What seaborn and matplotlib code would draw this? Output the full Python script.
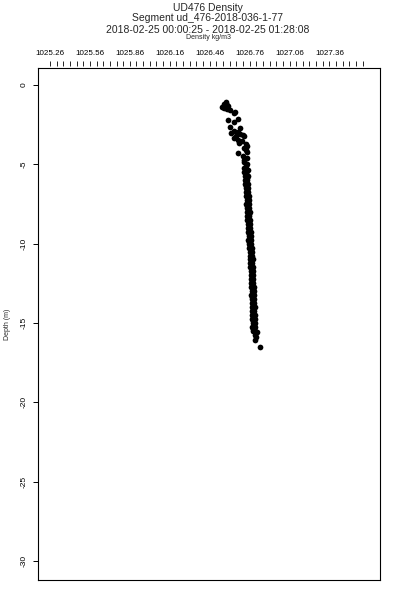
import numpy as np
import pandas as pd
import matplotlib
matplotlib.use("Agg")
import matplotlib.pyplot as plt
import seaborn as sns
from matplotlib.ticker import FixedLocator

# scattered points near the surface
top_depth = [-1.07, -1.20, -1.32, -1.45, -1.39, -1.58, -1.70, -1.77, -2.21, -2.33,
             -2.15, -2.65, -2.71, -3.03, -2.90, -3.22, -3.34, -3.09, -3.22, -3.53,
             -3.66, -3.72, -4.29, -3.97, -4.10, -4.48, -4.61, -4.86, -5.11, -5.36,
             -5.49, -5.68, -1.25, -1.50, -2.95, -3.15, -3.45, -3.85, -4.20, -4.70,
             -5.00, -5.25]
top_density = [1026.58, 1026.57, 1026.60, 1026.57, 1026.55, 1026.61, 1026.65, 1026.64, 1026.60, 1026.64,
               1026.67, 1026.61, 1026.69, 1026.62, 1026.64, 1026.66, 1026.64, 1026.69, 1026.72, 1026.70,
               1026.68, 1026.73, 1026.67, 1026.72, 1026.73, 1026.71, 1026.74, 1026.72, 1026.73, 1026.75,
               1026.72, 1026.74, 1026.59, 1026.59, 1026.67, 1026.71, 1026.67, 1026.74, 1026.74, 1026.72,
               1026.74, 1026.72]

# the dense band below 5.7 m
band_depth = [-5.75, -6.0, -6.25, -6.5, -6.75, -7.0, -7.25, -7.5, -7.75, -8.0,
              -8.25, -8.5, -8.75, -9.0, -9.25, -9.5, -9.75, -10.0, -10.25, -10.5,
              -10.75, -11.0, -11.25, -11.5, -11.75, -12.0, -12.25, -12.5, -12.75, -13.0,
              -13.25, -13.5, -13.75, -14.0, -14.25, -14.5, -14.75, -15.0, -15.25, -15.5]
band_left = [1026.727, 1026.724, 1026.729, 1026.733, 1026.731, 1026.736, 1026.739, 1026.735, 1026.740, 1026.743,
             1026.739, 1026.744, 1026.747, 1026.746, 1026.750, 1026.754, 1026.751, 1026.755, 1026.758, 1026.762,
             1026.761, 1026.765, 1026.762, 1026.766, 1026.769, 1026.768, 1026.772, 1026.769, 1026.772, 1026.775,
             1026.772, 1026.776, 1026.775, 1026.779, 1026.776, 1026.780, 1026.779, 1026.783, 1026.780, 1026.784]
band_mid = [1026.738, 1026.733, 1026.736, 1026.742, 1026.740, 1026.745, 1026.748, 1026.743, 1026.750, 1026.752,
            1026.748, 1026.754, 1026.755, 1026.757, 1026.758, 1026.763, 1026.759, 1026.764, 1026.767, 1026.770,
            1026.771, 1026.773, 1026.770, 1026.775, 1026.778, 1026.777, 1026.781, 1026.777, 1026.782, 1026.784,
            1026.780, 1026.786, 1026.783, 1026.788, 1026.785, 1026.789, 1026.788, 1026.792, 1026.789, 1026.793]
band_right = [1026.745, 1026.742, 1026.746, 1026.749, 1026.751, 1026.753, 1026.757, 1026.754, 1026.757, 1026.760,
              1026.758, 1026.761, 1026.763, 1026.765, 1026.767, 1026.771, 1026.768, 1026.772, 1026.775, 1026.778,
              1026.779, 1026.782, 1026.780, 1026.783, 1026.786, 1026.787, 1026.789, 1026.786, 1026.790, 1026.793,
              1026.790, 1026.794, 1026.793, 1026.797, 1026.794, 1026.797, 1026.798, 1026.800, 1026.797, 1026.801]
band_mid_depth = [-5.88, -6.12, -6.38, -6.62, -6.88, -7.12, -7.38, -7.62, -7.88, -8.12,
                  -8.38, -8.62, -8.88, -9.12, -9.38, -9.62, -9.88, -10.12, -10.38, -10.62,
                  -10.88, -11.12, -11.38, -11.62, -11.88, -12.12, -12.38, -12.62, -12.88, -13.12,
                  -13.38, -13.62, -13.88, -14.12, -14.38, -14.62, -14.88, -15.12, -15.38, -15.45]

# last few points at the bottom
tail_depth = [-15.58, -15.77, -15.90, -16.09, -16.53]
tail_density = [1026.816, 1026.800, 1026.809, 1026.800, 1026.840]

x_tick_values = [1025.26, 1025.56, 1025.86, 1026.16, 1026.46, 1026.76, 1027.06, 1027.36]
y_tick_values = [0, -5, -10, -15, -20, -25, -30]

df = pd.DataFrame({
    "density": top_density + band_left + band_mid + band_right + tail_density,
    "depth": top_depth + band_depth + band_mid_depth + band_depth + tail_depth,
})

sns.set_style("white")
plt.rcParams['font.family'] = ['Liberation Sans', 'DejaVu Sans']

fig = plt.figure(figsize=(4, 6), dpi=100)
ax = fig.add_axes([0.095, 0.0333, 0.855, 0.8534])
sns.scatterplot(data=df, x="density", y="depth", ax=ax, color="black",
                s=17, linewidth=0, legend=False)

ax.set_xlim(1025.17, 1027.74)
ax.set_ylim(-31.2, 1.07)
ax.set_xticks([])
ax.set_xlabel("")
ax.set_yticks(y_tick_values)
ax.set_yticklabels([str(v) for v in y_tick_values])
ax.tick_params(axis="y", left=True, direction="out", length=3.6, width=0.7,
               pad=4, labelsize=6, labelrotation=90, colors="black")
for lbl in ax.get_yticklabels():
    lbl.set_verticalalignment("center")
ax.set_ylabel("Depth (m)", fontsize=5, labelpad=7)
for sp in ax.spines.values():
    sp.set_color("black")
    sp.set_linewidth(0.8)

# detached density scale above the frame
sec = ax.secondary_xaxis(1.004)
sec.spines["top"].set_visible(False)
sec.set_xticks(x_tick_values)
sec.set_xticklabels([f"{v:.2f}" for v in x_tick_values])
sec.xaxis.set_minor_locator(FixedLocator(np.arange(1025.26, 1027.62, 0.05)))
sec.tick_params(which="both", direction="out", length=3.6, width=0.6,
                pad=3, labelsize=5.8, colors="black")

fig.text(0.52, 0.987, "UD476 Density", ha="center", va="center", fontsize=7.5)
fig.text(0.52, 0.970, "Segment ud_476-2018-036-1-77", ha="center", va="center", fontsize=7.5)
fig.text(0.52, 0.950, "2018-02-25 00:00:25 - 2018-02-25 01:28:08", ha="center", va="center", fontsize=7.5)
fig.text(0.52, 0.937, "Density kg/m3", ha="center", va="center", fontsize=5)

fig.savefig("out.png", dpi=100)
